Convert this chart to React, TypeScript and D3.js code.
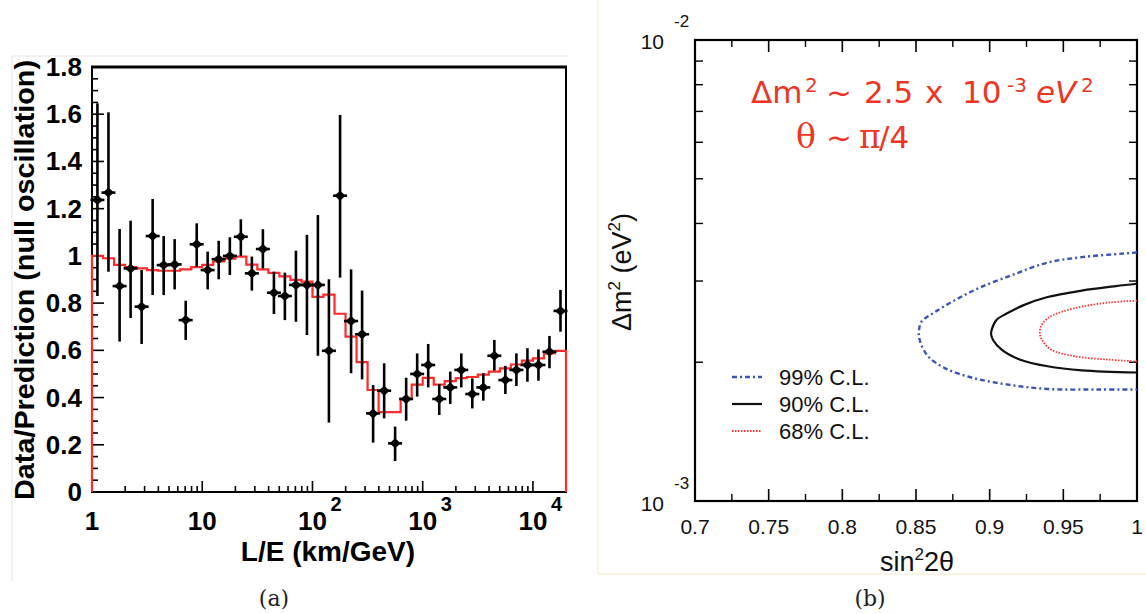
import React from 'react';
import * as d3 from 'd3';

// ---------- Panel (a): L/E ratio ----------
const leCenters = [1.12, 1.41, 1.78, 2.24, 2.82, 3.55, 4.47, 5.62, 7.08, 8.91, 11.2, 14.1, 17.8, 22.4, 28.2, 35.5, 44.7, 56.2, 70.8, 89.1, 112, 141, 178, 224, 282, 355, 447, 562, 708, 891, 1122, 1413, 1778, 2239, 2818, 3548, 4467, 5623, 7079, 8913, 11220, 14125, 17783];
const ratio = [1.237, 1.268, 0.872, 0.947, 0.785, 1.084, 0.961, 0.964, 0.728, 1.049, 0.94, 0.986, 1.0, 1.081, 0.926, 1.029, 0.844, 0.83, 0.877, 0.877, 0.877, 0.598, 1.255, 0.724, 0.668, 0.333, 0.429, 0.206, 0.394, 0.5, 0.538, 0.394, 0.443, 0.517, 0.415, 0.443, 0.577, 0.474, 0.517, 0.538, 0.538, 0.594, 0.767];
const errLow = [0.83, 0.933, 0.637, 0.737, 0.627, 0.834, 0.834, 0.858, 0.644, 0.953, 0.858, 0.901, 0.919, 1.0, 0.853, 0.947, 0.754, 0.728, 0.721, 0.665, 0.577, 0.294, 0.908, 0.503, 0.477, 0.209, 0.312, 0.131, 0.302, 0.404, 0.443, 0.326, 0.373, 0.443, 0.354, 0.387, 0.514, 0.415, 0.449, 0.467, 0.471, 0.524, 0.679];
const errHigh = [1.646, 1.608, 1.114, 1.149, 0.94, 1.241, 1.084, 1.071, 0.81, 1.138, 1.018, 1.064, 1.079, 1.155, 0.997, 1.113, 0.933, 0.929, 1.022, 1.089, 1.173, 0.901, 1.597, 0.943, 0.853, 0.453, 0.545, 0.277, 0.484, 0.587, 0.627, 0.457, 0.51, 0.587, 0.481, 0.503, 0.644, 0.534, 0.587, 0.609, 0.604, 0.661, 0.856];
const binEdges = [1, 1.259, 1.585, 1.995, 2.512, 3.162, 3.981, 5.012, 6.31, 7.943, 10, 12.59, 15.85, 19.95, 25.12, 31.62, 39.81, 50.12, 63.1, 79.43, 100, 125.9, 158.5, 199.5, 251.2, 316.2, 398.1, 501.2, 631, 794.3, 1000, 1259, 1585, 1995, 2512, 3162, 3981, 5012, 6310, 7943, 10000, 12589, 15849, 19953];
const prediction = [1.0, 0.99, 0.962, 0.952, 0.947, 0.94, 0.937, 0.937, 0.943, 0.952, 0.962, 0.977, 0.988, 0.997, 0.963, 0.943, 0.928, 0.913, 0.898, 0.891, 0.826, 0.836, 0.755, 0.658, 0.55, 0.432, 0.338, 0.338, 0.395, 0.455, 0.483, 0.455, 0.47, 0.482, 0.487, 0.497, 0.51, 0.524, 0.54, 0.556, 0.566, 0.587, 0.598];
const yTicksA = [0, 0.2, 0.4, 0.6, 0.8, 1, 1.2, 1.4, 1.6, 1.8];
const yTickLabelsA = ['0', '0.2', '0.4', '0.6', '0.8', '1', '1.2', '1.4', '1.6', '1.8'];
const xDecadesA = [1, 10, 100, 1000, 10000];
const xDecadeBase = ['1', '10', '10', '10', '10'];
const xDecadeExp = ['', '', '2', '3', '4'];

// ---------- Panel (b): contours ----------
const sinTicks = [0.7, 0.75, 0.8, 0.85, 0.9, 0.95, 1];
const sinTickLabels = ['0.7', '0.75', '0.8', '0.85', '0.9', '0.95', '1'];
const sinMinorTicks = [0.725, 0.775, 0.825, 0.875, 0.925, 0.975];
const dmMinorTicks = [0.002, 0.003, 0.004, 0.005, 0.006, 0.007, 0.008, 0.009];

const cl99Sin = [1.0, 0.99, 0.9625, 0.9393, 0.9162, 0.893, 0.8767, 0.8629, 0.8536, 0.852, 0.852, 0.8534, 0.8582, 0.8698, 0.8884, 0.9115, 0.9393, 0.9741, 1.0];
const cl99Dm = [3.46e-3, 3.44e-3, 3.38e-3, 3.29e-3, 3.10e-3, 2.90e-3, 2.73e-3, 2.57e-3, 2.445e-3, 2.34e-3, 2.28e-3, 2.19e-3, 2.06e-3, 1.94e-3, 1.85e-3, 1.79e-3, 1.75e-3, 1.745e-3, 1.745e-3];
const cl90Sin = [1.0, 0.9857, 0.9625, 0.9393, 0.9231, 0.9115, 0.9046, 0.9015, 0.901, 0.9023, 0.9081, 0.9208, 0.9393, 0.9625, 1.0];
const cl90Dm = [2.96e-3, 2.925e-3, 2.86e-3, 2.77e-3, 2.66e-3, 2.55e-3, 2.47e-3, 2.36e-3, 2.30e-3, 2.235e-3, 2.13e-3, 2.025e-3, 1.96e-3, 1.92e-3, 1.90e-3];
const cl68Sin = [1.0, 0.981, 0.9625, 0.9486, 0.9393, 0.9347, 0.9341, 0.9359, 0.9417, 0.9579, 0.981, 1.0];
const cl68Dm = [2.72e-3, 2.695e-3, 2.64e-3, 2.57e-3, 2.49e-3, 2.385e-3, 2.30e-3, 2.226e-3, 2.13e-3, 2.06e-3, 2.026e-3, 2.007e-3];
const legendLabels = ['99% C.L.', '90% C.L.', '68% C.L.'];

const SANS = '"Liberation Sans", Arial, Helvetica, sans-serif';
const SERIF = '"DejaVu Serif", "Liberation Serif", serif';
const FUN = '"DejaVu Sans", Verdana, sans-serif';
const RED_TXT = '#ee3524';

export default function App() {
  const xA = d3.scaleLog().domain([1, 19953]).range([92, 566]);
  const yA = d3.scaleLinear().domain([0, 1.8]).range([492, 67]);
  const xB = d3.scaleLinear().domain([0.7, 1]).range([695, 1137]);
  const yB = d3.scaleLog().domain([1e-3, 1e-2]).range([501, 40]);

  const histPts: [number, number][] = [[binEdges[0], 0]];
  prediction.forEach((p, i) => {
    histPts.push([binEdges[i], p]);
    histPts.push([binEdges[i + 1], p]);
  });
  histPts.push([binEdges[binEdges.length - 1], 0]);
  const histLine = d3.line<[number, number]>().x(d => xA(d[0])).y(d => yA(d[1]));

  const yMinorA = d3.range(0, 1.8001, 0.05);
  const xMinorA = xA.ticks().filter(t => xA(t) <= 566);

  const contour = (s: number[], m: number[]) =>
    d3.line<number>().x(i => xB(s[i])).y(i => yB(m[i])).curve(d3.curveCatmullRom.alpha(0.5))(d3.range(s.length)) || '';

  const styles = [
    { stroke: '#3b55b5', width: 2.4, dash: '5,3,2,3' },
    { stroke: '#111', width: 2.2, dash: undefined },
    { stroke: '#ff3030', width: 1.8, dash: '1.5,1.5' },
  ];
  const contours = [contour(cl99Sin, cl99Dm), contour(cl90Sin, cl90Dm), contour(cl68Sin, cl68Dm)];

  return (
    <div style={{ position: 'absolute', left: 0, top: 0 }}>
      <svg width={1146} height={614} style={{ display: 'block', background: '#fff' }}>
        <line x1={12} y1={56} x2={568} y2={56} stroke="#ececec" strokeWidth={1.5} />
        <line x1={12} y1={56} x2={12} y2={581} stroke="#ececec" strokeWidth={1.5} />
        <line x1={598} y1={0} x2={598} y2={574} stroke="#fbf1d8" strokeWidth={1.5} />
        <line x1={598} y1={574} x2={1146} y2={574} stroke="#fbf1d8" strokeWidth={1.5} />

        {/* ===== Panel (a) ===== */}
        <g>
          <rect x={92} y={67} width={474} height={425} fill="none" stroke="#000" strokeWidth={2} />
          <line x1={91} y1={67} x2={567} y2={67} stroke="#000" strokeWidth={3} />
          {yMinorA.map((v, i) => {
            const major = Math.abs(v / 0.2 - Math.round(v / 0.2)) < 1e-6;
            return <line key={'ym' + i} x1={92} x2={92 + (major ? 12 : 6)} y1={yA(v)} y2={yA(v)} stroke="#000" strokeWidth={1.6} />;
          })}
          {xMinorA.map((t, i) => {
            const major = xDecadesA.includes(t);
            return <line key={'xm' + i} x1={xA(t)} x2={xA(t)} y1={492} y2={492 - (major ? 11 : 6)} stroke="#000" strokeWidth={1.6} />;
          })}
          {yTicksA.map((v, i) => (
            <text key={'yl' + i} x={82} y={yA(v) + 9} textAnchor="end" fontFamily={SANS} fontWeight="bold" fontSize={26} fill="#000">{yTickLabelsA[i]}</text>
          ))}
          {xDecadesA.map((v, i) => (
            <g key={'xl' + i}>
              <text x={xA(v)} y={530} textAnchor="middle" fontFamily={SANS} fontWeight="bold" fontSize={26} fill="#000">{xDecadeBase[i]}</text>
              {xDecadeExp[i] && (
                <text x={xA(v) + 18} y={511} textAnchor="start" fontFamily={SANS} fontWeight="bold" fontSize={20} fill="#000">{xDecadeExp[i]}</text>
              )}
            </g>
          ))}
          <text x={328} y={561} textAnchor="middle" fontFamily={SANS} fontWeight="bold" fontSize={28} fill="#000">L/E (km/GeV)</text>
          <text transform="translate(34,280) rotate(-90)" textAnchor="middle" fontFamily={SANS} fontWeight="bold" fontSize={28} textLength={440} lengthAdjust="spacingAndGlyphs" fill="#000">Data/Prediction (null oscillation)</text>

          <path d={histLine(histPts) || ''} fill="none" stroke="#ff2a2a" strokeWidth={2.2} />

          {leCenters.map((le, i) => {
            const cx = xA(le);
            const cy = yA(ratio[i]);
            return (
              <g key={'p' + i}>
                <line x1={cx} x2={cx} y1={yA(errLow[i])} y2={yA(errHigh[i])} stroke="#000" strokeWidth={2.6} />
                <line x1={cx - 7} x2={cx + 7} y1={cy} y2={cy} stroke="#000" strokeWidth={2.6} />
                <path d={`M${cx - 5.5},${cy} L${cx},${cy - 5} L${cx + 5.5},${cy} L${cx},${cy + 5} Z`} fill="#000" />
              </g>
            );
          })}
          <text x={274} y={606} textAnchor="middle" fontFamily={SERIF} fontSize={22} fill="#222">(a)</text>
        </g>

        {/* ===== Panel (b) ===== */}
        <g>
          <defs>
            <clipPath id="clipB">
              <rect x={695} y={40} width={442} height={461} />
            </clipPath>
          </defs>
          {sinTicks.map((v, i) => (
            <g key={'bt' + i}>
              <line x1={xB(v)} x2={xB(v)} y1={501} y2={489} stroke="#000" strokeWidth={1.6} />
              <line x1={xB(v)} x2={xB(v)} y1={40} y2={52} stroke="#000" strokeWidth={1.6} />
            </g>
          ))}
          {sinMinorTicks.map((v, i) => (
            <g key={'bmt' + i}>
              <line x1={xB(v)} x2={xB(v)} y1={501} y2={494} stroke="#000" strokeWidth={1.4} />
              <line x1={xB(v)} x2={xB(v)} y1={40} y2={47} stroke="#000" strokeWidth={1.4} />
            </g>
          ))}
          {dmMinorTicks.map((v, i) => (
            <g key={'dmt' + i}>
              <line x1={695} x2={703} y1={yB(v)} y2={yB(v)} stroke="#000" strokeWidth={1.4} />
              <line x1={1137} x2={1129} y1={yB(v)} y2={yB(v)} stroke="#000" strokeWidth={1.4} />
            </g>
          ))}
          <rect x={695} y={40} width={442} height={461} fill="none" stroke="#000" strokeWidth={2.2} />

          {sinTickLabels.map((lab, i) => (
            <text key={'sl' + i} x={xB(sinTicks[i])} y={534} textAnchor="middle" fontFamily={SANS} fontSize={21} fill="#111">{lab}</text>
          ))}
          <text x={664} y={yB(1e-2) + 9} textAnchor="end" fontFamily={SANS} fontSize={21} fill="#111">10</text>
          <text x={674} y={yB(1e-2) - 13} textAnchor="start" fontFamily={SANS} fontSize={17} fill="#111">-2</text>
          <text x={664} y={yB(1e-3) + 10} textAnchor="end" fontFamily={SANS} fontSize={21} fill="#111">10</text>
          <text x={674} y={yB(1e-3) - 12} textAnchor="start" fontFamily={SANS} fontSize={17} fill="#111">-3</text>

          <text x={917} y={571} textAnchor="middle" fontFamily={SANS} fontSize={27} fill="#111">
            sin<tspan dy={-11} fontSize={17}>2</tspan><tspan dy={11}>2θ</tspan>
          </text>
          <text transform="translate(631,272) rotate(-90)" textAnchor="middle" fontFamily={SANS} fontSize={27} fill="#111">
            Δm<tspan dy={-11} fontSize={17}>2</tspan><tspan dy={11}> (eV</tspan><tspan dy={-11} fontSize={17}>2</tspan><tspan dy={11}>)</tspan>
          </text>

          <g clipPath="url(#clipB)">
            {contours.map((d, i) => (
              <path key={'c' + i} d={d} fill="none" stroke={styles[i].stroke} strokeWidth={styles[i].width} strokeDasharray={styles[i].dash} />
            ))}
          </g>

          {legendLabels.map((lab, i) => (
            <g key={'lg' + i}>
              <line x1={732} x2={762} y1={377 + i * 27} y2={377 + i * 27} stroke={styles[i].stroke} strokeWidth={styles[i].width} strokeDasharray={styles[i].dash} />
              <text x={779} y={385 + i * 27} fontFamily={SANS} fontSize={22} fill="#111">{lab}</text>
            </g>
          ))}

          <text y={103} fontFamily={FUN} fontSize={31} fill={RED_TXT}>
            <tspan x={751}>Δm</tspan>
            <tspan x={805} dy={-11} fontSize={20}>2</tspan>
            <tspan x={826} dy={11}>~</tspan>
            <tspan x={864}>2.5</tspan>
            <tspan x={925}>x</tspan>
            <tspan x={962}>10</tspan>
            <tspan x={1007} dy={-11} fontSize={20}>-3</tspan>
            <tspan x={1036} dy={11} fontStyle="italic">eV</tspan>
            <tspan x={1081} dy={-11} fontSize={20}>2</tspan>
          </text>
          <text y={148} fontSize={33} fill={RED_TXT}>
            <tspan x={796} fontFamily={SERIF}>θ</tspan>
            <tspan x={826} fontFamily={FUN} fontSize={31}>~</tspan>
            <tspan x={859} fontFamily={SERIF}>π</tspan>
            <tspan x={879} fontFamily={FUN} fontSize={31}>/4</tspan>
          </text>
          <text x={870} y={606} textAnchor="middle" fontFamily={SERIF} fontSize={22} fill="#222">(b)</text>
        </g>
      </svg>
    </div>
  );
}
